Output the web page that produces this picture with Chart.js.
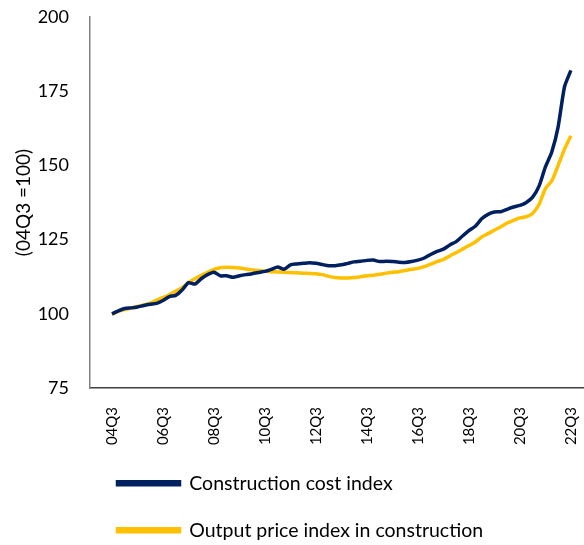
<!DOCTYPE html>
<html>
<head>
<meta charset="utf-8">
<script src="https://cdn.jsdelivr.net/npm/chart.js@4.4.0/dist/chart.umd.min.js"></script>
<style>
  html, body { margin: 0; padding: 0; background: #fff; }
  #wrap { width: 584px; height: 545px; }
</style>
</head>
<body>
<div id="wrap"><canvas id="costChart" width="584" height="545"></canvas></div>
<script>
// quarters, 04Q3 .. 22Q3
const quarters = [
  '04Q3','04Q4',
  '05Q1','05Q2','05Q3','05Q4','06Q1','06Q2','06Q3','06Q4',
  '07Q1','07Q2','07Q3','07Q4','08Q1','08Q2','08Q3','08Q4',
  '09Q1','09Q2','09Q3','09Q4','10Q1','10Q2','10Q3','10Q4',
  '11Q1','11Q2','11Q3','11Q4','12Q1','12Q2','12Q3','12Q4',
  '13Q1','13Q2','13Q3','13Q4','14Q1','14Q2','14Q3','14Q4',
  '15Q1','15Q2','15Q3','15Q4','16Q1','16Q2','16Q3','16Q4',
  '17Q1','17Q2','17Q3','17Q4','18Q1','18Q2','18Q3','18Q4',
  '19Q1','19Q2','19Q3','19Q4','20Q1','20Q2','20Q3','20Q4',
  '21Q1','21Q2','21Q3','21Q4','22Q1','22Q2','22Q3'
];

// Construction cost index (04Q3 = 100)
const costIndex = [
  100.0, 101.0, 101.8, 102.0, 102.3, 102.8, 103.2, 103.5, 104.5, 105.8,
  106.2, 108.0, 110.5, 110.0, 111.8, 113.2, 114.0, 112.8, 112.8, 112.3,
  112.8, 113.2, 113.5, 113.9, 114.3, 115.0, 115.8, 115.0, 116.5, 116.8,
  117.0, 117.2, 117.0, 116.6, 116.2, 116.2, 116.5, 117.0, 117.5, 117.7,
  118.0, 118.1, 117.6, 117.7, 117.6, 117.4, 117.3, 117.6, 118.1, 118.8,
  120.0, 121.0, 121.8, 123.2, 124.3, 126.2, 128.0, 129.5, 132.0, 133.5,
  134.3, 134.4, 135.2, 136.0, 136.5, 137.5, 139.3, 143.0, 149.5, 154.5,
  163.0, 176.5, 182.0
];

// Output price index in construction (04Q3 = 100)
const outputPriceIndex = [
  99.8, 100.8, 101.4, 101.9, 102.5, 103.0, 103.6, 104.6, 105.5, 106.4,
  107.6, 108.8, 110.5, 111.8, 113.0, 114.0, 115.0, 115.5, 115.7, 115.6,
  115.4, 115.1, 114.8, 114.6, 114.3, 114.2, 114.1, 114.0, 113.9, 113.8,
  113.7, 113.6, 113.5, 113.2, 112.6, 112.2, 112.1, 112.1, 112.2, 112.5,
  112.8, 113.0, 113.3, 113.7, 114.0, 114.2, 114.6, 115.0, 115.3, 115.9,
  116.7, 117.6, 118.3, 119.5, 120.6, 121.8, 123.0, 124.2, 125.9, 127.0,
  128.2, 129.3, 130.6, 131.5, 132.3, 132.7, 133.8, 136.8, 142.2, 144.8,
  150.0, 155.5, 160.0
];

const xTickLabels = ['04Q3','06Q3','08Q3','10Q3','12Q3','14Q3','16Q3','18Q3','20Q3','22Q3'];
const yTicks = [75, 100, 125, 150, 175, 200];

const FONT = 'Lato, "Liberation Sans", sans-serif';

function toPoints(values) {
  return values.map((v, i) => ({ x: i, y: v }));
}

const ctx = document.getElementById('costChart').getContext('2d');
const chart = new Chart(ctx, {
  type: 'line',
  data: {
    datasets: [
      {
        label: 'Construction cost index',
        data: toPoints(costIndex),
        borderColor: '#002060',
        backgroundColor: '#002060',
        borderWidth: 3.5,
        pointRadius: 0,
        tension: 0.2
      },
      {
        label: 'Output price index in construction',
        data: toPoints(outputPriceIndex),
        borderColor: '#FFC000',
        backgroundColor: '#FFC000',
        borderWidth: 3.5,
        pointRadius: 0,
        tension: 0.2
      }
    ]
  },
  options: {
    responsive: false,
    animation: false,
    layout: { padding: { top: 17, right: 1, left: 0, bottom: 0 } },
    plugins: {
      tooltip: { enabled: false },
      legend: {
        position: 'bottom',
        align: 'start',
        fullSize: false,
        maxHeight: 99,
        labels: {
          boxWidth: 62,
          boxHeight: 3,
          padding: 27.5,
          color: '#000',
          font: { family: FONT, size: 19.5 }
        }
      }
    },
    scales: {
      x: {
        type: 'linear',
        min: -3.45,
        max: 73.9,
        grid: { display: false },
        border: { display: true, color: '#404040', width: 1.5 },
        afterBuildTicks: (scale) => {
          scale.ticks = xTickLabels.map(l => ({ value: quarters.indexOf(l) }));
        },
        afterFit: (scale) => {
          scale.height = 58;
          scale.paddingLeft = 0;
          scale.paddingRight = 0;
        },
        ticks: {
          autoSkip: false,
          minRotation: 90,
          maxRotation: 90,
          padding: 11, // + 8px tick length
          color: '#000',
          font: { family: FONT, size: 15 },
          callback: (value) => quarters[value]
        }
      },
      y: {
        min: 75,
        max: 200,
        grid: { display: false },
        border: { display: true, color: '#808080', width: 1.5 },
        afterBuildTicks: (scale) => {
          scale.ticks = yTicks.map(v => ({ value: v }));
        },
        afterFit: (scale) => {
          scale.width = 90;
          scale.paddingTop = 0;
          scale.paddingBottom = 0;
        },
        title: {
          display: true,
          text: '(04Q3 =100)',
          color: '#000',
          padding: { top: 12, bottom: 0 },
          font: { family: FONT, size: 19 }
        },
        ticks: {
          padding: 13,
          color: '#000',
          font: { family: FONT, size: 18 }
        }
      }
    }
  }
});
</script>
</body>
</html>
